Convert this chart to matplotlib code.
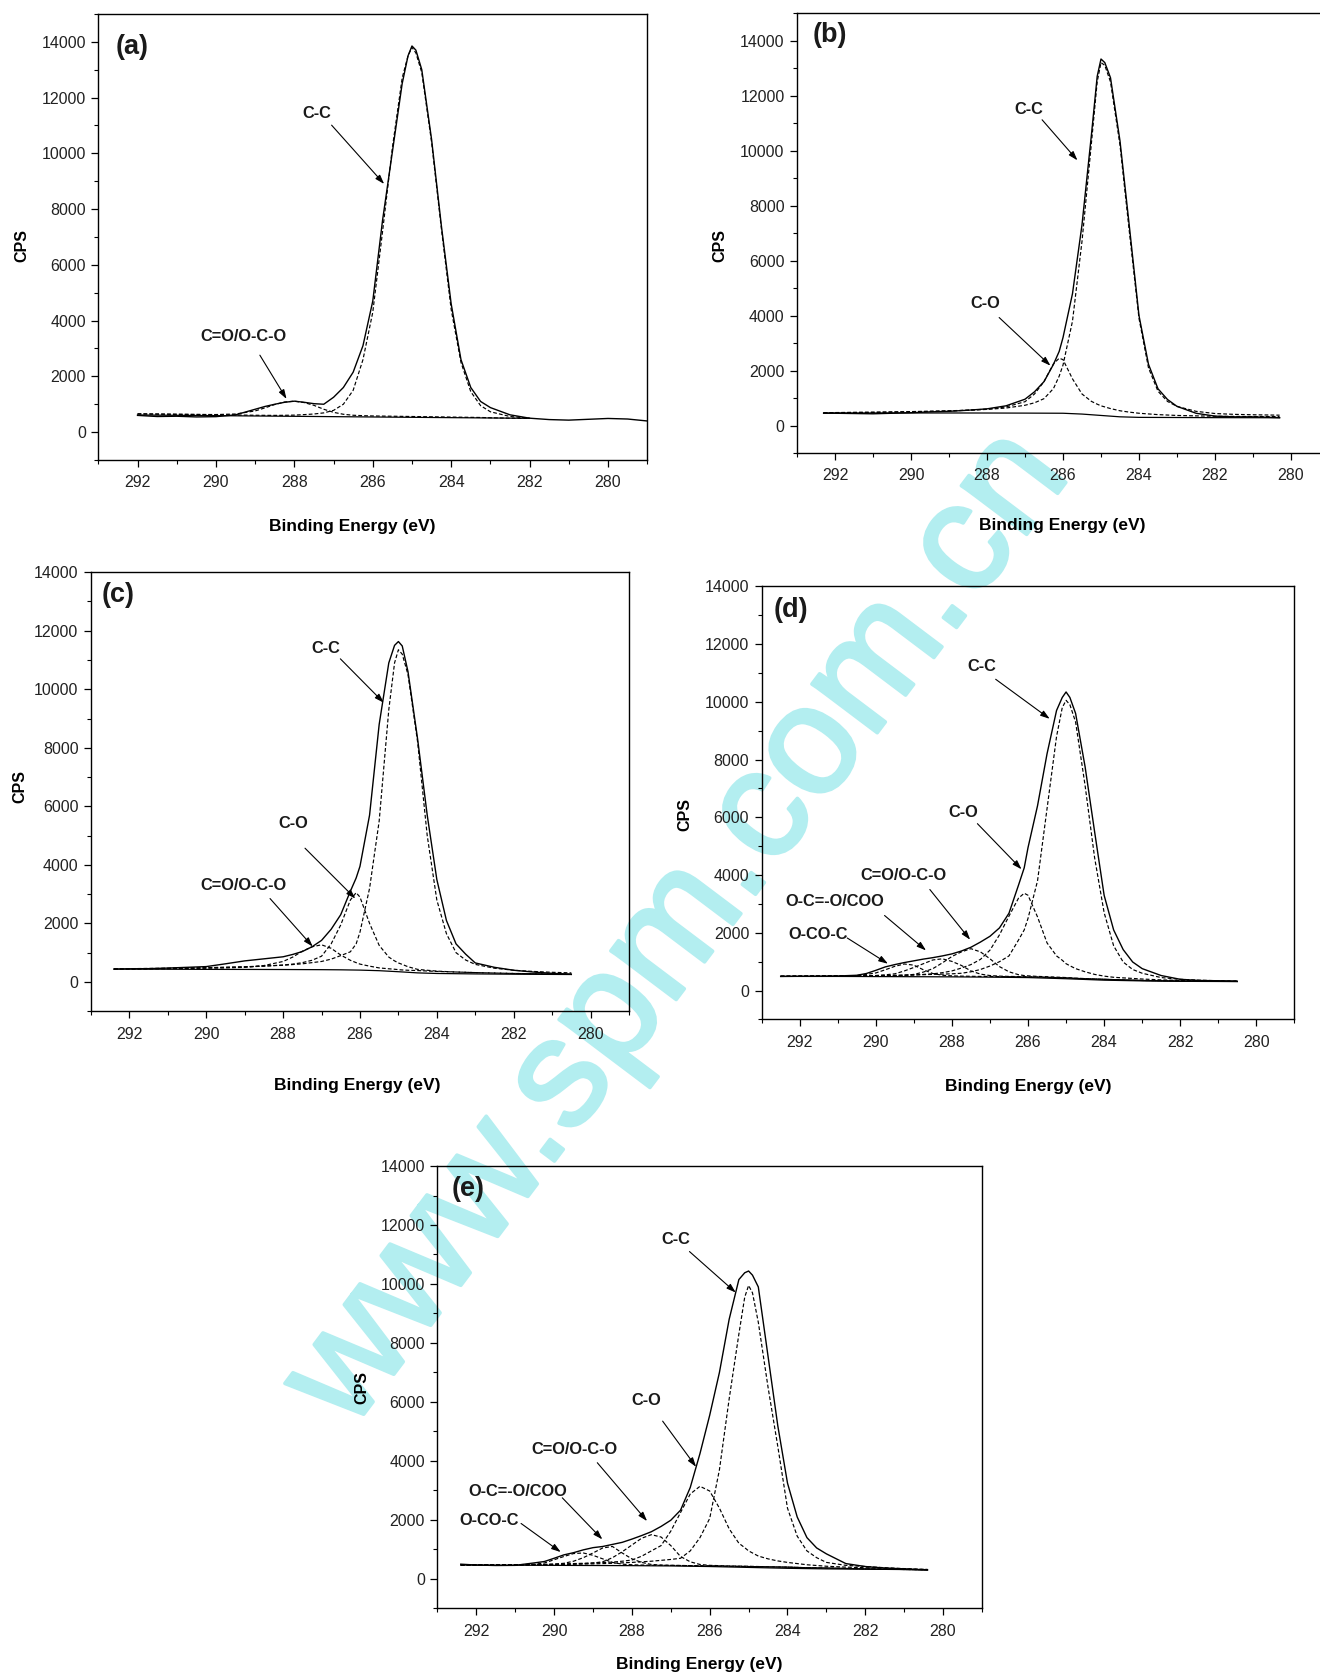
import matplotlib
matplotlib.use("Agg")
import matplotlib.pyplot as plt
import matplotlib.patheffects as pe
from matplotlib.ticker import MultipleLocator

plt.rcParams['font.family'] = ['Liberation Sans', 'DejaVu Sans']

# ---------------- data (binding energy in eV, intensity in CPS) ----------------
# panel (a)
a_energy = [292.0, 291.5, 291.0, 290.5, 290.0, 289.5, 289.0, 288.75, 288.5, 288.25,
            288.0, 287.75, 287.5, 287.25, 287.0, 286.75, 286.5, 286.25, 286.0, 285.75,
            285.5, 285.25, 285.1, 285.0, 284.9, 284.75, 284.5, 284.25, 284.0, 283.75,
            283.5, 283.25, 283.0, 282.5, 282.0, 281.5, 281.0, 280.5, 280.0, 279.5, 279.0]
a_envelope = [600, 560, 570, 545, 555, 620, 820, 920, 1000, 1070,
              1110, 1070, 1020, 1000, 1250, 1600, 2150, 3100, 4700, 7600,
              10050, 12500, 13500, 13850, 13700, 13000, 10500, 7400, 4600, 2600,
              1600, 1100, 880, 620, 500, 450, 430, 460, 490, 470, 400]
a_cc = [660, 650, 640, 632, 625, 615, 605, 602, 600, 603,
        610, 628, 650, 690, 780, 1000, 1500, 2600, 4300, 7200,
        10200, 12700, 13500, 13800, 13600, 12900, 10400, 7300, 4400, 2500,
        1450, 950, 730, 560, 500]
a_coo = [650, 645, 640, 635, 630, 650, 760, 870, 990, 1080,
         1110, 1060, 960, 820, 710, 640, 605, 590, 580, 575,
         570, 565, 562, 560, 558, 555, 550, 545, 540, 535,
         530, 525, 515, 500, 490]
a_bg_energy = [292.0, 282.0]
a_bg = [615, 495]

# panel (b)
b_energy = [292.3, 292.0, 291.5, 291.0, 290.5, 290.0, 289.5, 289.0, 288.5, 288.0,
            287.5, 287.0, 286.75, 286.5, 286.25, 286.1, 286.0, 285.75, 285.5, 285.25,
            285.1, 285.0, 284.9, 284.75, 284.5, 284.25, 284.0, 283.75, 283.5, 283.25,
            283.0, 282.5, 282.0, 281.5, 281.0, 280.3]
b_envelope = [450, 450, 440, 430, 450, 470, 500, 520, 560, 610,
              720, 960, 1230, 1600, 2230, 2700, 3200, 4800, 7300, 10600,
              12700, 13330, 13200, 12650, 10350, 7200, 4000, 2230, 1340, 950,
              700, 450, 345, 320, 320, 290]
b_cc = [470, 475, 482, 490, 500, 510, 525, 540, 560, 590,
        640, 740, 830, 980, 1350, 1800, 2200, 3800, 6700, 10300,
        12500, 13200, 13100, 12500, 10200, 7000, 3900, 2100, 1250, 880,
        700, 520, 440, 410, 395, 380]
b_co = [470, 472, 476, 480, 490, 500, 515, 530, 560, 600,
        680, 870, 1150, 1600, 2250, 2450, 2400, 1700, 1150, 880,
        780, 720, 680, 620, 540, 490, 450, 425, 400, 385,
        370, 355, 340, 335, 330, 330]
b_bg_energy = [292.3, 291.0, 290.0, 289.0, 288.0, 287.0, 286.0, 285.5, 285.0, 284.5,
               284.0, 283.0, 282.0, 281.0, 280.3]
b_bg = [460, 460, 460, 460, 458, 455, 450, 420, 370, 320, 300, 295, 290, 288, 285]

# panel (c)
c_energy = [292.4, 292.0, 291.5, 291.0, 290.5, 290.0, 289.5, 289.0, 288.5, 288.0,
            287.75, 287.5, 287.25, 287.0, 286.75, 286.5, 286.25, 286.1, 286.0, 285.75,
            285.5, 285.25, 285.1, 285.0, 284.9, 284.75, 284.5, 284.25, 284.0, 283.75,
            283.5, 283.25, 283.0, 282.5, 282.0, 281.5, 281.0, 280.5]
c_envelope = [440, 450, 455, 475, 500, 525, 620, 720, 790, 860,
              940, 1040, 1200, 1420, 1800, 2300, 3100, 3550, 3950, 5700,
              8800, 10900, 11500, 11630, 11480, 10600, 8300, 5700, 3500, 2100,
              1300, 950, 650, 500, 400, 340, 295, 260]
c_cc = [450, 455, 462, 470, 480, 490, 505, 520, 545, 570,
        595, 620, 660, 700, 780, 900, 1030, 1300, 1700, 3200,
        5500, 9300, 10900, 11350, 11200, 10500, 8200, 5000, 2800, 1650,
        1000, 750, 600, 470, 400, 360, 330, 310]
c_co = [440, 445, 452, 460, 470, 480, 495, 510, 540, 580,
        610, 660, 740, 880, 1300, 1950, 2800, 3050, 2900, 2000,
        1250, 850, 720, 650, 600, 520, 430, 400, 370, 355,
        340, 330, 320, 305, 290, 282, 275, 270]
c_coo = [440, 445, 450, 455, 462, 470, 480, 500, 560, 700,
         850, 1050, 1200, 1270, 1150, 920, 740, 660, 610, 540,
         480, 450, 435, 420, 410, 400, 390, 375, 360, 350,
         340, 330, 320, 305, 290, 282, 275, 270]
c_bg_energy = [292.4, 291.0, 290.0, 289.0, 288.0, 287.0, 286.5, 286.0, 285.5, 285.0,
               284.5, 284.0, 283.0, 282.0, 281.0, 280.5]
c_bg = [440, 435, 430, 428, 425, 420, 415, 405, 385, 350, 310, 290, 275, 265, 258, 255]

# panel (d)
d_energy = [292.5, 292.0, 291.5, 291.0, 290.5, 290.25, 290.0, 289.75, 289.5, 289.25,
            289.0, 288.75, 288.5, 288.25, 288.0, 287.75, 287.5, 287.25, 287.0, 286.75,
            286.5, 286.25, 286.1, 286.0, 285.75, 285.5, 285.25, 285.1, 285.0, 284.9,
            284.75, 284.5, 284.25, 284.0, 283.75, 283.5, 283.25, 283.0, 282.5, 282.0,
            281.5, 281.0, 280.5]
d_envelope = [490, 495, 500, 505, 530, 590, 700, 820, 900, 970,
              1030, 1090, 1140, 1200, 1270, 1370, 1500, 1680, 1880, 2170,
              2680, 3650, 4250, 4950, 6400, 8200, 9700, 10150, 10340, 10150,
              9600, 7750, 5500, 3300, 2100, 1420, 990, 760, 520, 390,
              350, 340, 320]
d_cc = [500, 502, 505, 510, 515, 517, 520, 525, 530, 535,
        540, 550, 560, 570, 580, 600, 650, 730, 850, 1000,
        1200, 1750, 2100, 2500, 3800, 6300, 8800, 9800, 10050, 9900,
        9300, 7100, 4600, 2700, 1550, 990, 730, 600, 450, 390,
        360, 340, 330]
d_co = [490, 492, 495, 500, 505, 507, 510, 515, 520, 530,
        540, 560, 580, 620, 680, 780, 900, 1080, 1400, 1930,
        2580, 3200, 3370, 3300, 2550, 1650, 1200, 1050, 930, 860,
        760, 650, 560, 500, 460, 440, 420, 400, 370, 350,
        340, 330, 320]
d_coc = [490, 492, 495, 497, 500, 500, 500, 505, 510, 530,
         560, 640, 760, 960, 1180, 1340, 1450, 1340, 1100, 830,
         650, 550, 520, 510, 490, 480, 465, 457, 450, 443,
         430, 415, 400, 390, 380, 370, 360, 350, 340, 330,
         325, 320, 320]
d_ocoo = [490, 492, 495, 497, 500, 510, 520, 545, 580, 680,
          800, 930, 1060, 1100, 1010, 870, 680, 570, 520, 500,
          490, 485, 482, 480, 470, 460, 450, 445, 440, 435,
          425, 410, 400, 390, 380, 370, 360, 350, 340, 330,
          325, 320, 320]
d_ococ = [490, 492, 495, 500, 520, 560, 610, 720, 840, 920,
          880, 720, 590, 530, 510, 500, 495, 490, 490, 485,
          480, 475, 472, 470, 465, 455, 445, 440, 435, 430,
          420, 410, 400, 390, 380, 370, 360, 350, 340, 330,
          325, 320, 320]
d_bg_energy = [292.5, 291.0, 290.0, 289.0, 288.0, 287.0, 286.0, 285.5, 285.0, 284.5,
               284.0, 283.0, 282.0, 281.0, 280.5]
d_bg = [490, 490, 485, 480, 475, 465, 450, 430, 410, 385, 360, 335, 320, 315, 310]

# panel (e)
e_energy = [292.4, 292.0, 291.5, 291.0, 290.5, 290.25, 290.0, 289.75, 289.5, 289.25,
            289.0, 288.75, 288.5, 288.25, 288.0, 287.75, 287.5, 287.25, 287.0, 286.75,
            286.5, 286.25, 286.0, 285.75, 285.5, 285.25, 285.1, 285.0, 284.9, 284.75,
            284.5, 284.25, 284.0, 283.75, 283.5, 283.25, 283.0, 282.5, 282.0, 281.5,
            281.0, 280.4]
e_envelope = [500, 470, 455, 460, 545, 590, 700, 815, 890, 985,
              1060, 1100, 1170, 1240, 1350, 1470, 1600, 1780, 1990, 2330,
              3100, 4250, 5550, 7000, 8800, 10150, 10380, 10440, 10300, 9900,
              7550, 5200, 3250, 2100, 1400, 1050, 850, 520, 420, 370,
              340, 300]
e_cc = [480, 480, 480, 482, 485, 487, 490, 495, 500, 505,
        510, 520, 530, 545, 560, 580, 600, 630, 660, 700,
        950, 1400, 2050, 3700, 6100, 8300, 9550, 9950, 9700, 8700,
        6500, 4500, 2400, 1450, 950, 720, 560, 460, 420, 380,
        350, 320]
e_co = [470, 472, 475, 480, 485, 490, 500, 510, 520, 530,
        540, 555, 570, 600, 640, 770, 950, 1130, 1620, 2250,
        2880, 3140, 2980, 2400, 1700, 1210, 1060, 950, 880, 775,
        680, 610, 560, 520, 480, 455, 430, 400, 380, 360,
        340, 320]
e_coc = [470, 472, 475, 477, 480, 480, 480, 490, 500, 515,
         540, 580, 720, 920, 1150, 1380, 1500, 1420, 1130, 760,
         580, 490, 460, 450, 440, 435, 432, 430, 425, 420,
         410, 405, 400, 390, 380, 375, 370, 355, 340, 330,
         320, 310]
e_ocoo = [470, 472, 475, 477, 480, 490, 500, 530, 600, 720,
          880, 1050, 1100, 880, 680, 560, 490, 470, 460, 455,
          450, 445, 440, 435, 430, 425, 422, 420, 417, 415,
          410, 405, 400, 390, 380, 375, 370, 355, 340, 330,
          320, 310]
e_ococ = [470, 472, 475, 480, 500, 540, 650, 760, 860, 880,
          800, 680, 560, 500, 480, 470, 465, 462, 460, 455,
          450, 445, 440, 435, 430, 425, 422, 420, 417, 415,
          410, 405, 400, 390, 380, 375, 370, 355, 340, 330,
          320, 310]
e_bg_energy = [292.4, 291.0, 290.0, 289.0, 288.0, 287.0, 286.0, 285.0, 284.0, 283.0,
               282.0, 281.0, 280.4]
e_bg = [470, 465, 460, 455, 450, 440, 420, 390, 360, 340, 330, 318, 310]

# peak labels: (text, text position, arrow start, arrow tip)
a_labels = [("C-C", (287.43, 11430), (287.05, 11010), (285.71, 8900)),
            ("C=O/O-C-O", (289.29, 3414), (288.88, 2760), (288.20, 1190))]
b_labels = [("C-C", (286.89, 11510), (286.55, 11120), (285.62, 9645)),
            ("C-O", (288.05, 4430), (287.68, 3930), (286.33, 2180))]
c_labels = [("C-C", (286.90, 11400), (286.51, 11040), (285.38, 9540)),
            ("C-O", (287.73, 5410), (287.43, 4570), (286.12, 2850)),
            ("C=O/O-C-O", (289.03, 3290), (288.34, 2850), (287.23, 1210))]
d_labels = [("C-C", (287.22, 11220), (286.85, 10780), (285.43, 9410)),
            ("C-O", (287.70, 6150), (287.33, 5780), (286.17, 4200)),
            ("C=O/O-C-O", (289.28, 4000), (288.58, 3500), (287.52, 1760)),
            ("O-C=-O/COO", (291.07, 3075), (289.77, 2600), (288.68, 1390)),
            ("O-CO-C", (291.52, 1926), (290.75, 1820), (289.68, 930))]
e_labels = [("C-C", (286.88, 11500), (286.52, 11100), (285.33, 9710)),
            ("C-O", (287.62, 6060), (287.21, 5350), (286.35, 3800)),
            ("C=O/O-C-O", (289.47, 4390), (288.89, 3940), (287.61, 1960)),
            ("O-C=-O/COO", (290.93, 2970), (289.79, 2750), (288.76, 1340)),
            ("O-CO-C", (291.67, 1995), (290.85, 1880), (289.83, 910))]

panels = [
    dict(tag="(a)", rect=[0.0745, 0.7257, 0.4158, 0.2660], ylim=(-1000, 15000),
         energy=a_energy, envelope=a_envelope, comps=[a_cc, a_coo],
         bg_energy=a_bg_energy, bg=a_bg, labels=a_labels,
         cps=(-0.140, 0.48), be=(0.462, -0.148), tagpos=(0.031, 0.926)),
    dict(tag="(b)", rect=[0.6038, 0.7298, 0.4030, 0.2624], ylim=(-1000, 15000),
         energy=b_energy, envelope=b_envelope, comps=[b_cc, b_co],
         bg_energy=b_bg_energy, bg=b_bg, labels=b_labels,
         cps=(-0.145, 0.471), be=(0.498, -0.165), tagpos=(0.030, 0.95)),
    dict(tag="(c)", rect=[0.0689, 0.3970, 0.4076, 0.2618], ylim=(-1000, 14000),
         energy=c_energy, envelope=c_envelope, comps=[c_cc, c_co, c_coo],
         bg_energy=c_bg_energy, bg=c_bg, labels=c_labels,
         cps=(-0.133, 0.513), be=(0.495, -0.170), tagpos=(0.020, 0.949)),
    dict(tag="(d)", rect=[0.5770, 0.3921, 0.4036, 0.2583], ylim=(-1000, 14000),
         energy=d_energy, envelope=d_envelope, comps=[d_cc, d_co, d_coc, d_ocoo, d_ococ],
         bg_energy=d_bg_energy, bg=d_bg, labels=d_labels,
         cps=(-0.1445, 0.472), be=(0.50, -0.154), tagpos=(0.022, 0.946)),
    dict(tag="(e)", rect=[0.3314, 0.0409, 0.4125, 0.2638], ylim=(-1000, 14000),
         energy=e_energy, envelope=e_envelope, comps=[e_cc, e_co, e_coc, e_ocoo, e_ococ],
         bg_energy=e_bg_energy, bg=e_bg, labels=e_labels,
         cps=(-0.139, 0.50), be=(0.481, -0.127), tagpos=(0.026, 0.947)),
]

fig = plt.figure(figsize=(13.2, 16.77), dpi=100)

# watermark, underneath the panels
wm_color = "#b3eef0"
fig.text(0.5385, 0.4314, "www.spm.com.cn", fontsize=111, fontweight="normal",
         color=wm_color, rotation=53, rotation_mode="anchor",
         ha="center", va="baseline", zorder=-5,
         path_effects=[pe.withStroke(linewidth=2.6, foreground=wm_color)])

dash = (0, (3.2, 1.8))
for p in panels:
    ax = fig.add_axes(p["rect"])
    ax.set_facecolor("none")
    E = p["energy"]
    for comp in p["comps"]:
        ax.plot(E[:len(comp)], comp, color="black", lw=0.85, ls=dash)
    ax.plot(p["bg_energy"], p["bg"], color="black", lw=0.9)
    ax.plot(E, p["envelope"], color="black", lw=1.0)

    ax.set_xlim(293, 279)
    ax.set_ylim(*p["ylim"])
    ax.xaxis.set_major_locator(MultipleLocator(2))
    ax.xaxis.set_minor_locator(MultipleLocator(1))
    ax.yaxis.set_major_locator(MultipleLocator(2000))
    ax.yaxis.set_minor_locator(MultipleLocator(1000))
    ax.tick_params(which="major", direction="out", length=5, width=0.9,
                   labelsize=11.5, labelcolor="#222222", pad=4)
    ax.tick_params(which="minor", direction="out", length=3, width=0.8)
    ax.tick_params(axis="x", which="major", pad=6)
    for s in ax.spines.values():
        s.set_linewidth(1.0)

    ax.set_ylabel("CPS", fontsize=11.5, fontweight="bold")
    ax.yaxis.set_label_coords(*p["cps"])
    ax.yaxis.label.set_va("center")
    ax.set_xlabel("Binding Energy (eV)", fontsize=12.5, fontweight="bold")
    ax.xaxis.set_label_coords(*p["be"])
    ax.xaxis.label.set_va("center")

    ax.text(p["tagpos"][0], p["tagpos"][1], p["tag"], transform=ax.transAxes,
            fontsize=19.5, fontweight="bold", ha="left", va="center", color="#1a1a1a")

    for text, tpos, start, tip in p["labels"]:
        ax.text(tpos[0], tpos[1], text, fontsize=11.8, fontweight="bold",
                ha="center", va="center", color="#1a1a1a")
        ax.annotate("", xy=tip, xytext=start,
                    arrowprops=dict(arrowstyle="-|>,head_length=0.55,head_width=0.18",
                                    color="black", lw=0.8, shrinkA=0, shrinkB=0))

fig.savefig("out.png", dpi=100)
